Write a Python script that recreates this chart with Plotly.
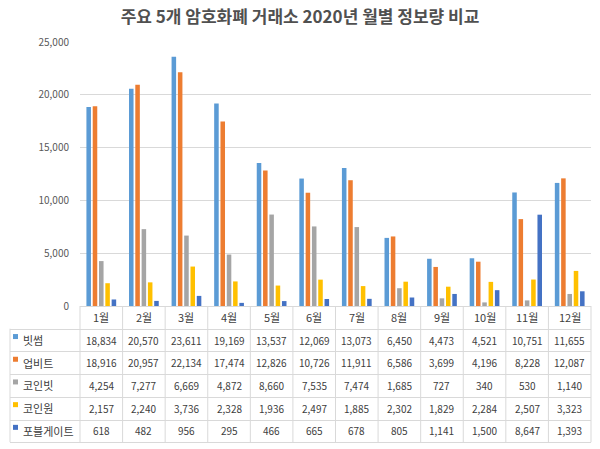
import plotly.graph_objects as go

# monthly data (2020)
months = ['1월', '2월', '3월', '4월', '5월', '6월', '7월', '8월', '9월', '10월', '11월', '12월']
exchanges = ['빗썸', '업비트', '코인빗', '코인원', '포블게이트']
bithumb  = [18834, 20570, 23611, 19169, 13537, 12069, 13073, 6450, 4473, 4521, 10751, 11655]
upbit    = [18916, 20957, 22134, 17474, 12826, 10726, 11911, 6586, 3699, 4196, 8228, 12087]
coinbit  = [4254, 7277, 6669, 4872, 8660, 7535, 7474, 1685, 727, 340, 530, 1140]
coinone  = [2157, 2240, 3736, 2328, 1936, 2497, 1885, 2302, 1829, 2284, 2507, 3323]
foblgate = [618, 482, 956, 295, 466, 665, 678, 805, 1141, 1500, 8647, 1393]
y_ticks = [0, 5000, 10000, 15000, 20000, 25000]

series = [bithumb, upbit, coinbit, coinone, foblgate]
colors = ['#5B9BD5', '#ED7D31', '#A5A5A5', '#FFC000', '#4472C4']

W, H = 600, 449
L, R, T, B = 80, 9, 42, 143
pw, ph = W - L - R, H - T - B
font = "Noto Sans CJK KR"
grid = '#D9D9D9'


def px_x(x):
    return (x - L) / pw


def px_y(y):
    return (H - B - y) / ph


fig = go.Figure()
for name, vals, c in zip(exchanges, series, colors):
    fig.add_trace(go.Bar(x=months, y=vals, name=name, marker=dict(color=c, line=dict(width=0))))

# data table under the plot
row_h = 22.7
top = H - B
shapes = []
# horizontal lines
for i in range(1, 7):
    y = round(top + i * row_h) + 0.5
    shapes.append(dict(type='line', xref='paper', yref='paper', x0=px_x(10), x1=px_x(W - R),
                       y0=px_y(y), y1=px_y(y), line=dict(color=grid, width=1), layer='above'))
# vertical lines
for j in range(13):
    x = L + j * pw / 12
    shapes.append(dict(type='line', xref='paper', yref='paper', x0=px_x(x), x1=px_x(x),
                       y0=px_y(top), y1=px_y(top + 6 * row_h), line=dict(color=grid, width=1)))
shapes.append(dict(type='line', xref='paper', yref='paper', x0=px_x(10), x1=px_x(10),
                   y0=px_y(top + row_h), y1=px_y(top + 6 * row_h), line=dict(color=grid, width=1)))

annotations = []
for m in months:
    annotations.append(dict(x=m, xref='x', y=px_y(top + row_h / 2), yref='paper', text=m,
                            yanchor='middle', showarrow=False,
                            font=dict(family=font, size=11, color='#404040')))
for i, (name, vals, c) in enumerate(zip(exchanges, series, colors)):
    yc = top + (i + 1.5) * row_h
    shapes.append(dict(type='rect', xref='paper', yref='paper', x0=px_x(13), x1=px_x(18),
                       y0=px_y(yc - 1), y1=px_y(yc - 6), fillcolor=c, line=dict(width=0)))
    annotations.append(dict(x=px_x(21), xref='paper', y=px_y(yc), yref='paper', text=name,
                            xanchor='left', yanchor='middle', showarrow=False,
                            font=dict(family=font, size=11, color='#404040')))
    for m, v in zip(months, vals):
        annotations.append(dict(x=m, xref='x', y=px_y(yc), yref='paper', text=f"{v:,}",
                                yanchor='middle', showarrow=False,
                                font=dict(family=font, size=10, color='#404040')))

fig.update_layout(
    title=dict(text="<b>주요 5개 암호화폐 거래소 2020년 월별 정보량 비교</b>", x=0.5, xanchor='center',
               y=1 - 17 / H, yanchor='middle', font=dict(family=font, size=17, color='#505050')),
    width=W, height=H,
    margin=dict(l=L, r=R, t=T, b=B),
    plot_bgcolor='white', paper_bgcolor='white',
    barmode='group', bargap=0.26, bargroupgap=0.28,
    showlegend=False,
    shapes=shapes, annotations=annotations,
    xaxis=dict(showticklabels=False, showline=True, linecolor=grid, ticks=''),
    yaxis=dict(range=[0, 25000], tickvals=y_ticks, tickformat=',', gridcolor=grid,
               zeroline=False, ticks='outside', ticklen=8, tickcolor='rgba(0,0,0,0)',
               tickfont=dict(family=font, size=10, color='#595959')),
)

fig.write_html("out.html", config={'displayModeBar': False},
               post_script="document.body.style.margin='0';")
